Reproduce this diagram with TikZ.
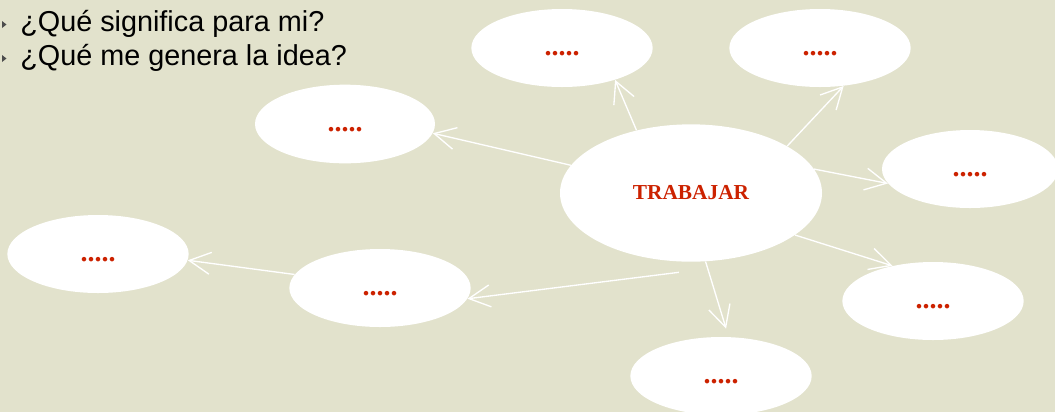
\documentclass[tikz,border=0pt]{standalone}
\usepackage{fontspec}
\setmainfont{Liberation Sans}
\newfontfamily\timesbf{Liberation Serif}
\usepackage{tikz}
\usetikzlibrary{arrows.meta,shapes.geometric}

\definecolor{paper}{RGB}{226,226,204}
\definecolor{wordred}{RGB}{204,34,0}

\begin{document}
\begin{tikzpicture}[
    x=0.75pt, y=-0.75pt,
    > = {Straight Barb[length=16pt,width=16.5pt]}, % open arrow head
    bubble/.style={ellipse, fill=white, inner sep=0pt, minimum width=136pt, minimum height=58.5pt,
        text=wordred, font=\timesbf\bfseries\fontsize{21}{21}\selectfont, text height=11pt, text depth=0pt},
    hub/.style={ellipse, fill=white, inner sep=0pt, minimum width=196.5pt, minimum height=103pt,
        text=wordred, font=\timesbf\bfseries\fontsize{16}{16}\selectfont},
    link/.style={->, draw=white, line width=1pt},
    question/.style={anchor=base west, inner sep=0pt, font=\fontsize{21.6}{26}\selectfont}
]
\useasboundingbox (0,0) rectangle (1055,412);
\clip (0,0) rectangle (1055,412);
\fill[paper] (0,0) rectangle (1055,412);

% Questions
\fill[black!70] (2,21) -- (6.5,24.5) -- (2,28) -- cycle;
\fill[black!70] (2,55) -- (6.5,58.5) -- (2,62) -- cycle;
\node[question] (q1) at (20,31.5) {¿Qué significa para mi?};
\node[question] (q2) at (20,65.5) {¿Qué me genera la idea?};

% Nodes
\node[hub] (trab) at (691,193) {TRABAJAR};
\node[bubble] (tm) at (562,48) {.....};
\node[bubble] (tr) at (820,48) {.....};
\node[bubble, minimum width=135pt, minimum height=59pt] (lu) at (345,124) {.....};
\node[bubble, minimum width=132pt] (rt) at (970,169) {.....};
\node[bubble] (fl) at (98,254) {.....};
\node[bubble] (ml) at (380,288) {.....};
\node[bubble] (br) at (933,301) {.....};
\node[bubble] (bt) at (721,376) {.....};

% Edges
\draw[link] (trab.131) -- (tm.-31);
\draw[link] (trab.26) -- (tr.-58);
\draw[link] (trab.167) -- (lu.-6);
\draw[link] (trab.11) -- (rt.190);
\draw[link] (trab.-22) -- (br.139);
\draw[link, shorten >=6.5pt] (trab.-78) -- (bt.79);
\draw[link] ([yshift=-8pt]trab.260) -- (ml.-7);
\draw[link] (ml.171) -- (fl.-4);

\end{tikzpicture}
\end{document}
